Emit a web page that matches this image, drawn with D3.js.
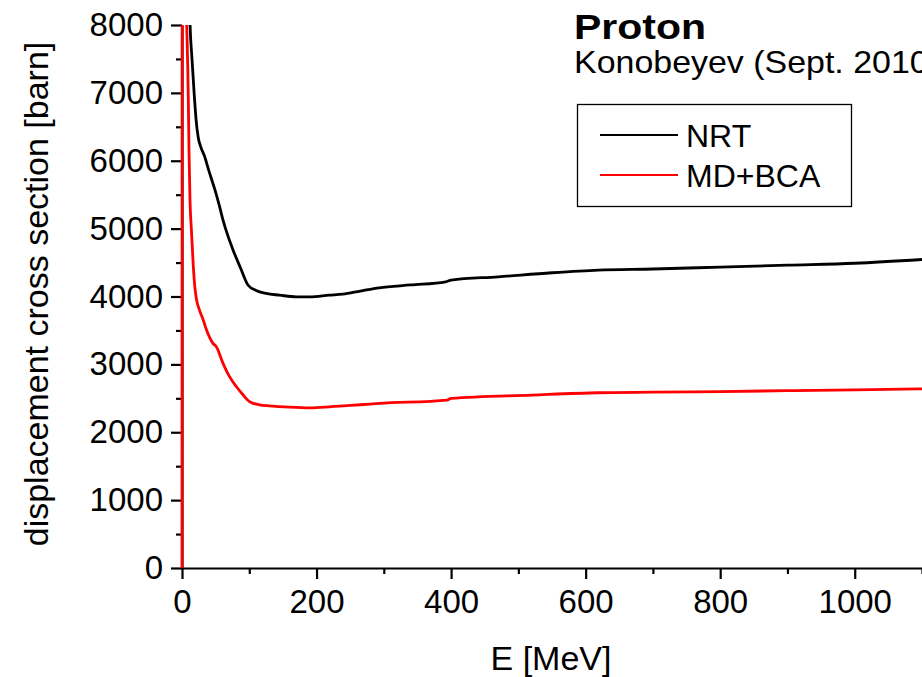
<!DOCTYPE html>
<html>
<head>
<meta charset="utf-8">
<script src="https://cdn.jsdelivr.net/npm/d3@7"></script>
<style>
  body { margin: 0; background: #fff; }
  svg { display: block; font-family: "Liberation Sans", Arial, sans-serif; }
  .axis path, .axis line { stroke: #000; stroke-width: 2.2; }
  .axis text { font-size: 33px; fill: #000; }
</style>
</head>
<body>
<div id="chart"></div>
<script>
// energy [MeV] and displacement cross section [barn]
var nrtE = [10, 12, 15, 18, 21, 24, 28, 33, 40, 49, 56, 61, 68, 76, 87, 98, 110, 125, 145, 170, 190, 219, 239, 265, 293, 340, 392, 400, 470, 550, 619, 700, 800, 900, 1000, 1100];
var nrtV = [8800, 8000, 7480, 7000, 6600, 6350, 6200, 6080, 5850, 5570, 5320, 5125, 4900, 4683, 4420, 4170, 4090, 4045, 4020, 3995, 3995, 4020, 4035, 4080, 4128, 4170, 4217, 4242, 4290, 4350, 4389, 4405, 4433, 4462, 4490, 4545];

var mdE = [0, 0.3, 7, 8.5, 9.4, 10.5, 11.9, 14, 16.7, 19, 21.7, 26, 31.6, 36.5, 46, 51, 61, 70, 81, 90, 100.7, 115, 130, 160, 190, 219, 234, 265, 293, 394, 400, 520, 619, 700, 800, 900, 1000, 1100];
var mdV = [0, 12000, 8000, 7400, 6890, 6100, 5420, 4980, 4460, 4150, 3947, 3800, 3652, 3505, 3310, 3260, 3015, 2830, 2670, 2560, 2450, 2405, 2390, 2370, 2360, 2375, 2386, 2405, 2425, 2474, 2499, 2548, 2582, 2590, 2600, 2612, 2625, 2640];

var xTicks = [0, 200, 400, 600, 800, 1000];
var yTicks = [0, 1000, 2000, 3000, 4000, 5000, 6000, 7000, 8000];

var seriesNames = ["NRT", "MD+BCA"];
var seriesColors = ["#000000", "#ff0000"];

function init() {
  var w = 922, h = 677;
  var left = 182, right = 922, top = 25, bottom = 568;

  var svg = d3.select("#chart").append("svg")
      .attr("width", w)
      .attr("height", h);

  var xScale = d3.scaleLinear().domain([0, 1100]).range([left, right]);
  var yScale = d3.scaleLinear().domain([0, 8000]).range([bottom, top]);

  svg.append("clipPath").attr("id", "plotclip")
    .append("rect")
    .attr("x", left - 3).attr("y", top)
    .attr("width", w).attr("height", bottom - top);

  // minor ticks
  svg.append("g").attr("class", "axis")
    .attr("transform", "translate(0," + bottom + ")")
    .call(d3.axisBottom(xScale).tickValues(d3.range(100, 1101, 200)).tickSize(6).tickFormat(""))
    .select(".domain").remove();
  svg.append("g").attr("class", "axis")
    .attr("transform", "translate(" + left + ",0)")
    .call(d3.axisLeft(yScale).tickValues(d3.range(500, 8000, 1000)).tickSize(6).tickFormat(""))
    .select(".domain").remove();

  // major axes
  svg.append("g").attr("class", "axis")
    .attr("transform", "translate(0," + bottom + ")")
    .call(d3.axisBottom(xScale).tickValues(xTicks).tickSize(11).tickSizeOuter(0)
      .tickPadding(11).tickFormat(d3.format("d")));
  svg.append("g").attr("class", "axis")
    .attr("transform", "translate(" + left + ",0)")
    .call(d3.axisLeft(yScale).tickValues(yTicks).tickSize(11).tickSizeOuter(0)
      .tickPadding(8).tickFormat(d3.format("d")));

  // curves
  var line = d3.line()
    .x(function(d) { return xScale(d[0]); })
    .y(function(d) { return yScale(d[1]); })
    .curve(d3.curveMonotoneX);

  var nrt = nrtE.map(function(e, i) { return [e, nrtV[i]]; });
  var md = mdE.map(function(e, i) { return [e, mdV[i]]; });

  var plot = svg.append("g").attr("clip-path", "url(#plotclip)");
  plot.append("path").datum(nrt)
    .attr("d", line).attr("fill", "none")
    .attr("stroke", seriesColors[0]).attr("stroke-width", 2.8)
    .attr("stroke-linejoin", "round");
  plot.append("path").datum(md)
    .attr("d", line).attr("fill", "none")
    .attr("stroke", seriesColors[1]).attr("stroke-width", 2.8)
    .attr("stroke-linejoin", "round");

  // axis titles
  svg.append("text")
    .attr("x", 551).attr("y", 670)
    .attr("text-anchor", "middle")
    .style("font-size", "34px")
    .text("E [MeV]");
  svg.append("text")
    .attr("transform", "translate(48,294) rotate(-90)")
    .attr("text-anchor", "middle")
    .style("font-size", "34px")
    .text("displacement cross section [barn]");

  // annotations (the source plot is cropped at its right edge)
  svg.append("text")
    .attr("x", 574).attr("y", 39)
    .attr("textLength", 132).attr("lengthAdjust", "spacingAndGlyphs")
    .style("font-size", "35px").style("font-weight", "bold")
    .text("Proton");
  svg.append("text")
    .attr("x", 574).attr("y", 73)
    .attr("textLength", 366).attr("lengthAdjust", "spacingAndGlyphs")
    .style("font-size", "32px")
    .text("Konobeyev (Sept. 2010)");

  // legend
  var lg = svg.append("g");
  lg.append("rect")
    .attr("x", 577.5).attr("y", 104.5)
    .attr("width", 274).attr("height", 102)
    .attr("fill", "#fff").attr("stroke", "#000").attr("stroke-width", 1.3);
  seriesNames.forEach(function(name, i) {
    var yy = 135 + i * 40;
    lg.append("line")
      .attr("x1", 600).attr("x2", 678)
      .attr("y1", yy).attr("y2", yy)
      .attr("stroke", seriesColors[i]).attr("stroke-width", 2.2);
    lg.append("text")
      .attr("x", 686).attr("y", yy + 12)
      .style("font-size", "32px")
      .text(name);
  });
}

window.onload = init;
</script>
</body>
</html>
